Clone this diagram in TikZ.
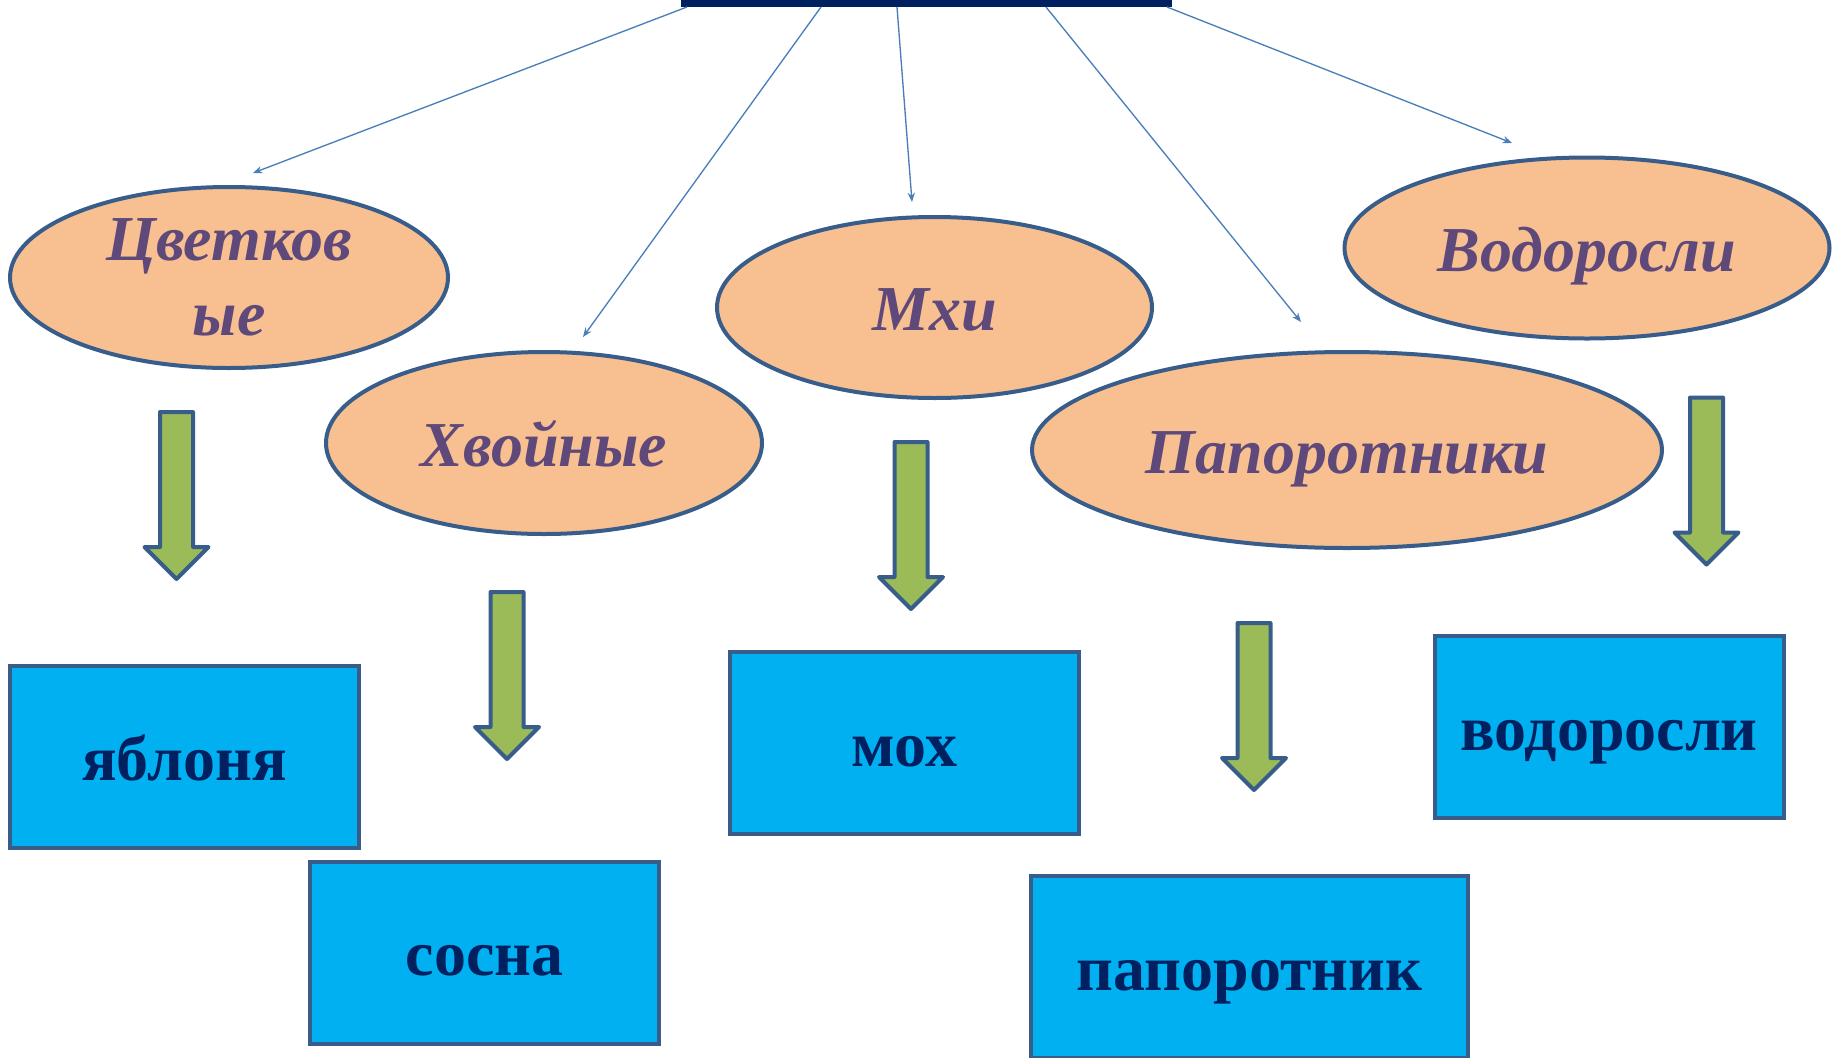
\documentclass[tikz,border=0pt]{standalone}
\usepackage{fontspec}
\setmainfont{Liberation Serif}
\usetikzlibrary{shapes.geometric,arrows.meta}

\definecolor{navybar}{RGB}{0,32,96}
\definecolor{rimblue}{RGB}{56,93,138}
\definecolor{peach}{RGB}{248,192,144}
\definecolor{plum}{RGB}{95,73,122}
\definecolor{skyfill}{RGB}{0,176,240}
\definecolor{leaf}{RGB}{155,187,89}
\definecolor{linkblue}{RGB}{74,126,187}

\tikzset{every picture/.style={line width=0.75pt}}
\tikzset{
  group/.style={ellipse, draw=rimblue, fill=peach, line width=3pt, inner sep=0pt,
    text=plum, font=\fontsize{48}{56}\selectfont\bfseries\itshape, align=center},
  oneline/.style={text height=34.5pt, text depth=0pt},
  example/.style={rectangle, draw=rimblue, fill=skyfill, line width=3pt, inner sep=0pt,
    minimum height=136.5pt, text=navybar, font=\fontsize{48}{56}\selectfont\bfseries,
    oneline},
  link/.style={draw=linkblue, line width=1pt, -{Stealth[length=7pt,width=5.5pt]}},
  blockarrow/.style={draw=rimblue, fill=leaf, line width=3pt, line join=round}
}
% green block arrow, #1 = top centre
\newcommand\greenarrow[1]{%
  \draw [blockarrow] #1 ++(-16.5,0) -- ++(33,0) -- ++(0,135) -- ++(15.5,0)
    -- ++(-32,32) -- ++(-32,-32) -- ++(15.5,0) -- cycle ;}

\begin{document}
\begin{tikzpicture}[x=0.75pt,y=0.75pt,yscale=-1,xscale=1]
\useasboundingbox (0,0) rectangle (1839,1057);
\clip (0,0) rectangle (1839,1057);

%Top bar
\node [fill=navybar, inner sep=0pt, minimum width=368.25pt, minimum height=15pt] (bar) at (926.5,-3.5) {};

%Groups
\node [group, minimum width=328.5pt, minimum height=135.75pt] (flower) at (229,277.5) {Цветков\\ые};
\node [group, oneline, minimum width=327pt, minimum height=136.5pt] (conifer) at (544,443) {Хвойные};
\node [group, oneline, minimum width=326.25pt, minimum height=135.75pt] (moss) at (934.5,307.5) {Мхи};
\node [group, oneline, minimum width=472.5pt, minimum height=147pt] (fern) at (1347,450) {Папоротники};
\node [group, oneline, minimum width=363.75pt, minimum height=135.75pt] (algae) at (1587,248) {Водоросли};

%Ends of the thin arrows
\coordinate (s1) at (687,7);
\coordinate (s2) at (821,7);
\coordinate (s3) at (897,7);
\coordinate (s4) at (1046,7);
\coordinate (s5) at (1167,7);
\coordinate (e1) at (253,173);
\coordinate (e2) at (583,337);
\coordinate (e3) at (912,202);
\coordinate (e4) at (1301,322);
\coordinate (e5) at (1512,143);

\draw [link] (s1) -- (e1);
\draw [link] (s2) -- (e2);
\draw [link] (s3) -- (e3);
\draw [link] (s4) -- (e4);
\draw [link] (s5) -- (e5);

%Green arrows
\greenarrow{(176.5,412)}
\greenarrow{(507,592)}
\greenarrow{(911,442)}
\greenarrow{(1254,623)}
\greenarrow{(1706.5,397.5)}

%Examples
\node [example, minimum width=261.75pt] (apple) at (184.5,757) {яблоня};
\node [example, minimum width=261.75pt] (pine) at (484.5,952.5) {сосна};
\node [example, minimum width=261.75pt] (mossbox) at (904.5,743) {мох};
\node [example, minimum width=327.75pt] (fernbox) at (1249.5,967) {папоротник};
\node [example, minimum width=261.75pt] (algaebox) at (1609,727) {водоросли};

\end{tikzpicture}
\end{document}
